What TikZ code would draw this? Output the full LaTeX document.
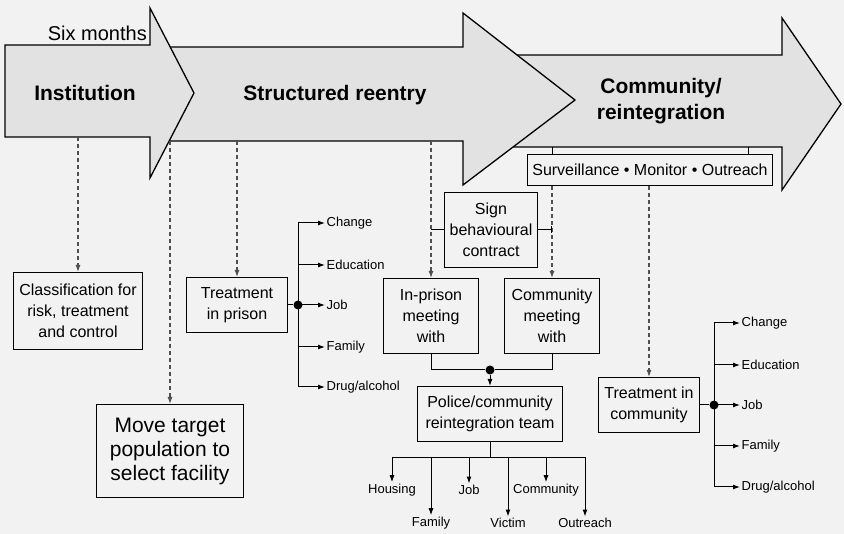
\documentclass[tikz,border=0pt]{standalone}
\usepackage{fontspec}
\setmainfont{Liberation Sans}
\usetikzlibrary{arrows.meta}
\definecolor{paper}{RGB}{242,242,242}
\definecolor{stagefill}{RGB}{226,226,226}
\definecolor{dashgray}{RGB}{80,80,80}

\begin{document}
\begin{tikzpicture}[x=1pt, y=-1pt,
		stagearrow/.style={fill=stagefill, draw, line width=1.3pt},
		stage/.style={font=\fontsize{21}{26}\selectfont\bfseries, align=center},
		box/.style={draw, line width=1.1pt, fill=paper, align=center, inner sep=2pt, font=\fontsize{16}{21}\selectfont},
		lbl/.style={font=\fontsize{13}{15}\selectfont, inner sep=1.5pt},
		link/.style={line width=1pt},
		twig/.style={line width=1pt, -{Latex[length=7pt,width=5pt]}},
		dashlink/.style={dashgray, line width=1.1pt, dash pattern=on 4pt off 3pt, -{Latex[length=7pt,width=5pt]}},
		dot/.style={circle, fill, inner sep=0pt, minimum size=9pt}]
		\fill[paper] (0,0) rectangle (844,534);
		\useasboundingbox (0,0) rectangle (844,534);

		\filldraw[stagearrow] (480,55) -- (782,55) -- (782,18) -- (841,104) -- (782,190) -- (782,147) -- (480,147) -- cycle;
		\filldraw[stagearrow] (160,47) -- (463,47) -- (463,13) -- (575,100) -- (463,185) -- (463,141) -- (160,141) -- cycle;
		\filldraw[stagearrow] (5,45) -- (150,45) -- (150,8) -- (194,93) -- (150,178) -- (150,137) -- (5,137) -- cycle;

		\coordinate (A1) at (0,137);
		\coordinate (A2) at (0,141);
		\coordinate (A3) at (0,147);

		\node[font=\fontsize{20}{24}\selectfont, anchor=east, inner sep=0pt] (six) at (147,33) {Six months};
		\node[stage] (inst) at (85,93) {Institution};
		\node[stage] (reentry) at (335,95) {Structured reentry};
		\node[stage] (comm) at (661,101) {Community/\\reintegration};

		\node[box, minimum width=129pt, minimum height=77pt] (cls) at (78,311) {Classification for\\risk, treatment\\and control};
		\node[box, minimum width=147pt, minimum height=93pt, font=\fontsize{21}{24}\selectfont] (move) at (170,451) {Move target\\population to\\select facility};
		\node[box, minimum width=101pt, minimum height=55pt] (tip) at (237,305) {Treatment\\in prison};
		\node[box, minimum width=93pt, minimum height=75pt] (sign) at (491,230) {Sign\\behavioural\\contract};
		\node[box, minimum width=95pt, minimum height=75pt] (inp) at (431,316) {In-prison\\meeting\\with};
		\node[box, minimum width=95pt, minimum height=75pt] (cmm) at (552,316) {Community\\meeting\\with};
		\node[box, minimum width=145pt, minimum height=55pt] (pol) at (490,414) {Police/community\\reintegration team};
		\node[box, minimum width=101pt, minimum height=55pt] (tic) at (649,405) {Treatment in\\community};
		\node[box, minimum width=245pt, minimum height=31pt] (surv) at (650,170) {Surveillance • Monitor • Outreach};

		\coordinate (S2) at (748,147);
		\draw[link] (cmm.north |- A3) -- (cmm.north |- surv.north);
		\draw[link] (S2) -- (S2 |- surv.north);

		\draw[dashlink] (cls.north |- A1) -- (cls.north);
		\draw[dashlink] (move.north |- A2) -- (move.north);
		\draw[dashlink] (tip.north |- A2) -- (tip.north);
		\draw[dashlink] (inp.north |- A2) -- (inp.north);
		\draw[dashlink] (cmm.north |- surv.south) -- (cmm.north);
		\draw[dashlink] (tic.north |- surv.south) -- (tic.north);

		\draw[link] (sign.west) -- (sign.west -| inp.north);
		\draw[link, -{Bar[width=7pt]}] (sign.east) -- (sign.east -| cmm.north);

		\node[dot] (dp) at (298,305) {};
		\foreach \n/\t/\y in {pc/Change/223, pe/Education/265, pj/Job/305, pf/Family/347, pd/Drug\slash alcohol/387}
			\node[lbl, anchor=west] (\n) at (325,\y) {\t};
		\draw[link] (tip.east) -- (dp);
		\draw[link] (dp |- pc) -- (dp |- pd);
		\foreach \n in {pc,pe,pj,pf,pd}
			\draw[twig] (dp |- \n) -- (\n.west);

		\node[dot] (dc) at (714,405) {};
		\foreach \n/\t/\y in {cc/Change/323, ce/Education/365, cj/Job/405, cf/Family/446, cd/Drug\slash alcohol/487}
			\node[lbl, anchor=west] (\n) at (740,\y) {\t};
		\draw[link] (tic.east) -- (dc);
		\draw[link] (dc |- cc) -- (dc |- cd);
		\foreach \n in {cc,ce,cj,cf,cd}
			\draw[twig] (dc |- \n) -- (\n.west);

		\node[dot] (jn) at (490,370) {};
		\draw[link] (inp.south) |- (jn) -| (cmm.south);
		\draw[twig] (jn) -- (pol.north);

		\draw[link] (pol.south) -- ++(0,15) coordinate (pb);
		\node[lbl] (hs) at (392,490) {Housing};
		\node[lbl] (fa) at (431,523) {Family};
		\node[lbl] (jb) at (469,490) {Job};
		\node[lbl] (vi) at (508,523) {Victim};
		\node[lbl] (co) at (546,490) {Community};
		\node[lbl] (oc) at (585,523) {Outreach};
		\draw[link] (hs.north |- pb) -- (oc.north |- pb);
		\foreach \n in {hs,fa,jb,vi,co,oc}
			\draw[twig] (\n.north |- pb) -- (\n.north);
	\end{tikzpicture}
\end{document}
